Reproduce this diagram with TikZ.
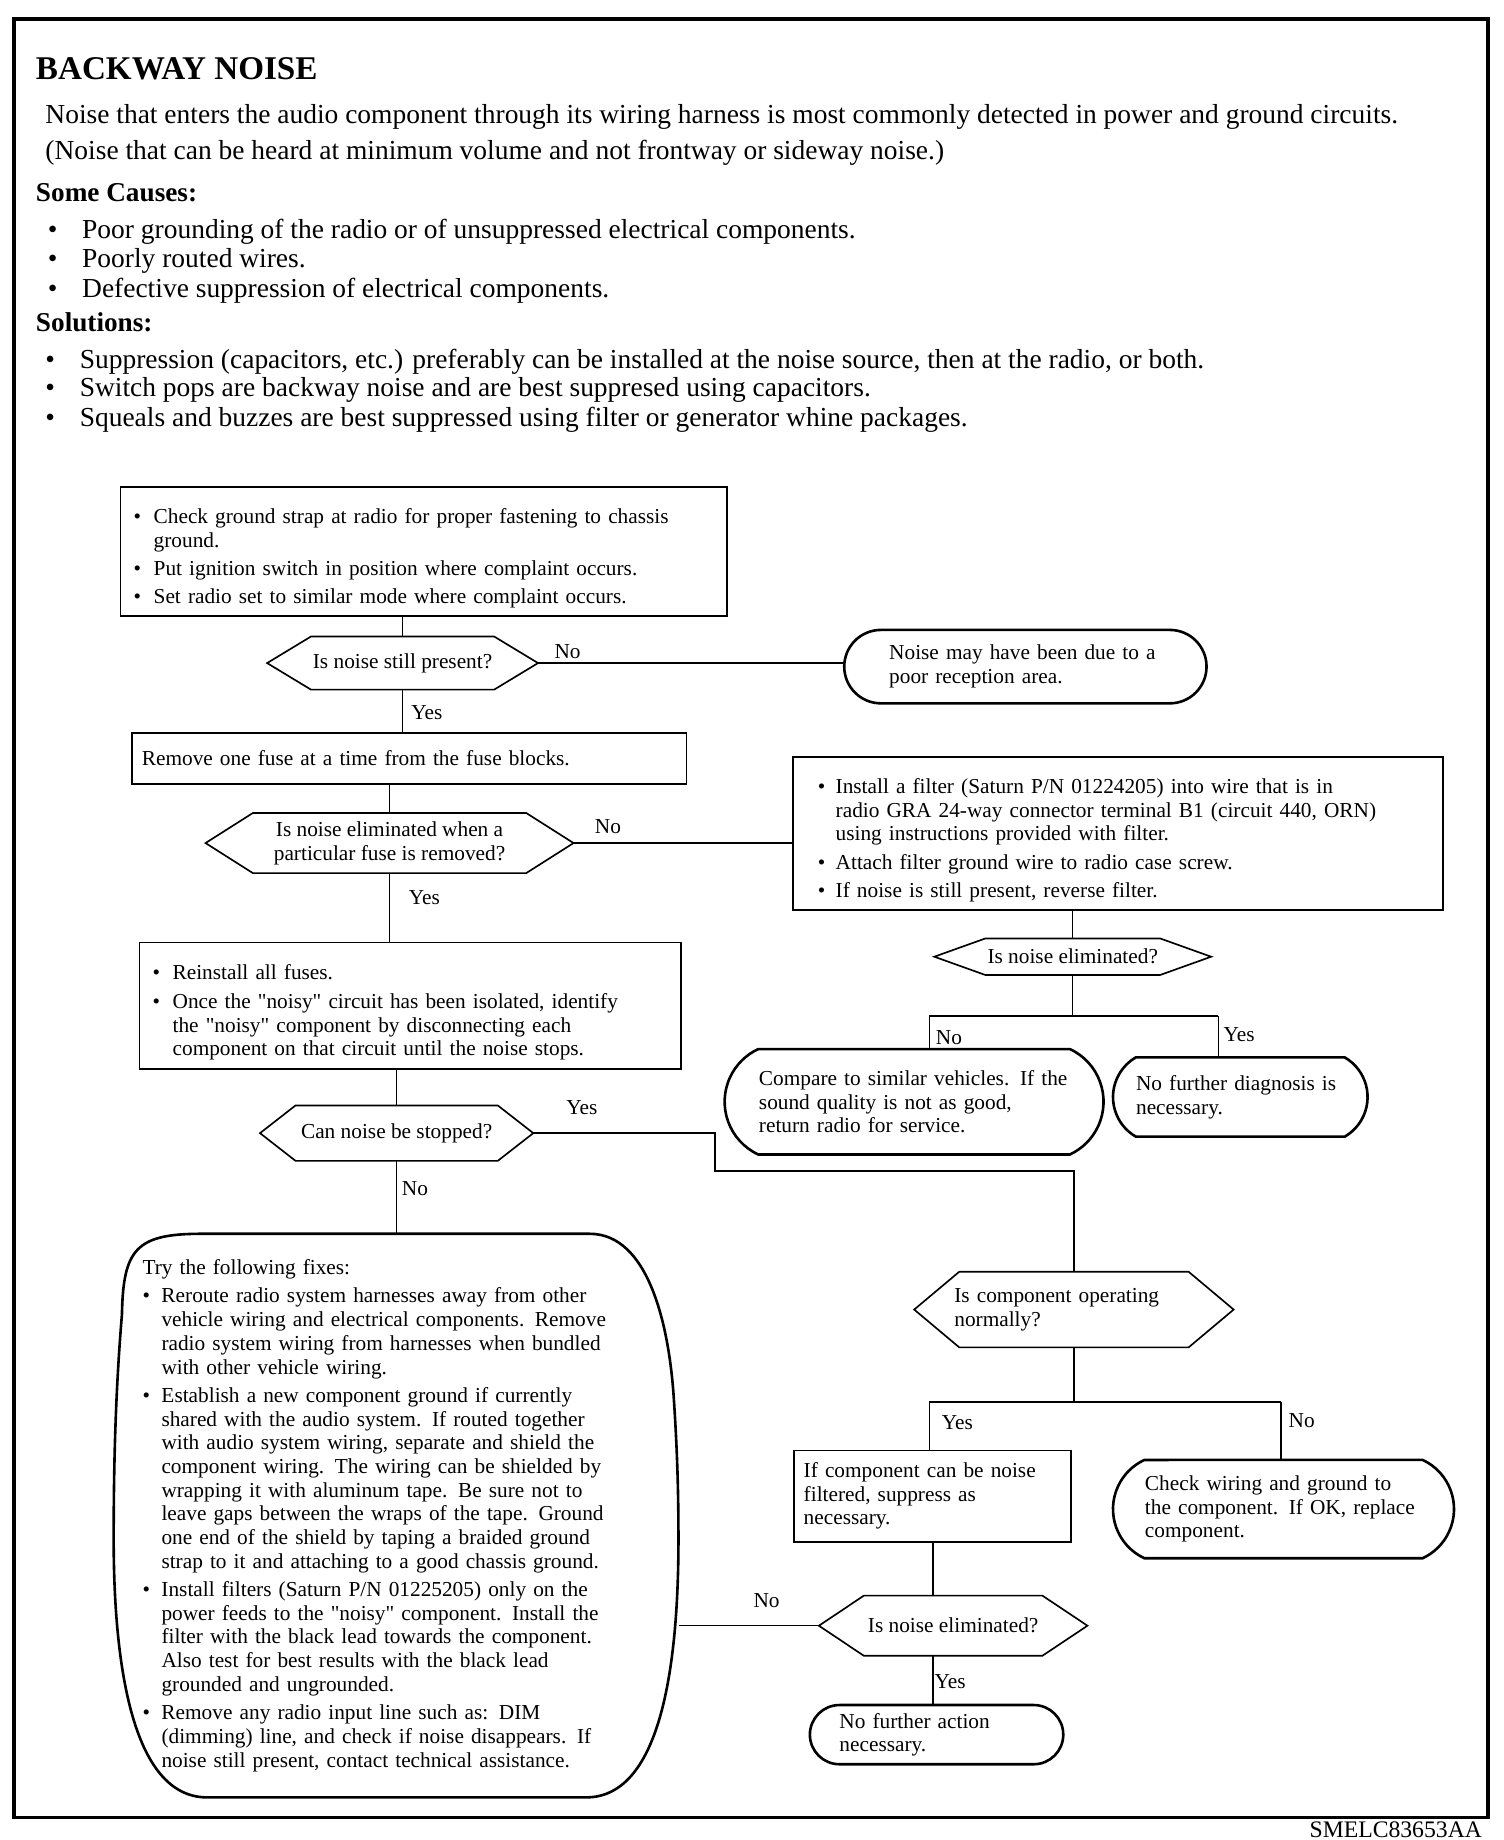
\documentclass[tikz,border=0pt]{standalone}
\usepackage{fontspec}
\setmainfont{Liberation Serif}
\newfontfamily\qfont{Liberation Serif}
\usetikzlibrary{shapes.misc}
\newcommand\dq{{\qfont"}}
\newcommand\fcfont{\fontsize{9}{10}\selectfont\setlength{\parskip}{2pt}}
\newcommand\hdfont{\fontsize{11.6}{13}\selectfont}
\newcommand\nl{\hfil\break}
\newcommand\fitem[2][8.5pt]{\par\noindent\hangindent=#1\hangafter=1\makebox[#1][l]{\textbullet}#2\par}
\newcommand\hexa[2]{\draw[hexline] (#1.west) -- ([xshift=#2]#1.north west) -- ([xshift=-#2]#1.north east) -- (#1.east) -- ([xshift=-#2]#1.south east) -- ([xshift=#2]#1.south west) -- cycle;}
\tikzset{
  bx/.style={draw, line width=0.8pt, rectangle, anchor=west, align=left, font=\fcfont},
  term/.style={draw, line width=1.1pt, rounded rectangle, align=left, font=\fcfont, inner xsep=0pt, inner ysep=2pt},
  hexn/.style={rectangle, inner sep=0pt, font=\fcfont, align=center},
  hexline/.style={line width=0.7pt},
  conn/.style={line width=0.6pt},
  lbl/.style={anchor=base west, inner sep=0pt, font=\fcfont},
  hd/.style={anchor=base west, inner sep=0pt, font=\hdfont},
  hdb/.style={anchor=base west, inner sep=0pt, font=\fontsize{11.5}{13}\selectfont\bfseries},
}
\begin{document}
\begin{tikzpicture}[x=0.5pt,y=-0.5pt]
\useasboundingbox (0,0) rectangle (1270,1554);
\draw[line width=1.6pt] (12,16) rectangle (1257,1535);
\node[anchor=base east, inner sep=0pt, font=\fontsize{10}{12}\selectfont] (code) at (1252,1552) {SMELC83653AA};

% header
\node[anchor=base west, inner sep=0pt, font=\fontsize{14}{16}\selectfont\bfseries] (title) at (30,67) {BACKWAY NOISE};
\node[hd] (intro1) at (38,104) {Noise that enters the audio component through its wiring harness is most commonly detected in power and ground circuits.};
\node[hd] (intro2) at (38,135) {(Noise that can be heard at minimum volume and not frontway or sideway noise.)};
\node[hdb] (causes) at (30,170) {Some Causes:};
\node[hd] (cb1) at (40,201) {\textbullet};
\node[hd] (ct1) at (69,201) {Poor grounding of the radio or of unsuppressed electrical components.};
\node[hd] (cb2) at (40,226) {\textbullet};
\node[hd] (ct2) at (69,226) {Poorly routed wires.};
\node[hd] (cb3) at (40,251) {\textbullet};
\node[hd] (ct3) at (69,251) {Defective suppression of electrical components.};
\node[hdb] (sols) at (30,280) {Solutions:};
\node[hd] (sb1) at (38,311) {\textbullet};
\node[hd] (st1) at (67,311) {Suppression (capacitors, etc.) preferably can be installed at the noise source, then at the radio, or both.};
\node[hd] (sb2) at (38,335) {\textbullet};
\node[hd] (st2) at (67,335) {Switch pops are backway noise and are best suppresed using capacitors.};
\node[hd] (sb3) at (38,360) {\textbullet};
\node[hd] (st3) at (67,360) {Squeals and buzzes are best suppressed using filter or generator whine packages.};

% left column
\node[bx, inner xsep=5.5pt, text width=245pt, minimum height=52pt] (b1) at (101,466)
  {\fitem{Check ground strap at radio for proper fastening to chassis\nl ground.}\fitem{Put ignition switch in position where complaint occurs.}\fitem{Set radio set to similar mode where complaint occurs.}};
\node[hexn, minimum width=114pt, minimum height=22pt] (d1) at (340,560) {Is noise still present?};
\hexa{d1}{18.5pt}
\node[term, text width=115pt, minimum width=153pt, minimum height=31pt] (e1) at (866,563) {Noise may have been due to a\\poor reception area.};
\node[bx, inner xsep=4pt, text width=226pt, minimum height=21.5pt] (b2) at (111,640.5) {Remove one fuse at a time from the fuse blocks.};
\node[hexn, minimum width=155pt, minimum height=25pt] (d2) at (329,712) {Is noise eliminated when a\\particular fuse is removed?};
\hexa{d2}{20pt}
\node[bx, inner xsep=10.5pt, text width=253.5pt, minimum height=63pt] (b3) at (669,704)
  {\fitem[7.5pt]{Install a filter (Saturn P/N 01224205) into wire that is in\nl radio GRA 24-way connector terminal B1 (circuit 440, ORN)\nl using instructions provided with filter.}\fitem[7.5pt]{Attach filter ground wire to radio case screw.}\fitem[7.5pt]{If noise is still present, reverse filter.}};
\node[bx, inner xsep=5.5pt, text width=217.5pt, minimum height=53.5pt] (b4) at (117,849.5)
  {\fitem{Reinstall all fuses.}\fitem{Once the \dq noisy\dq\ circuit has been isolated, identify\nl the \dq noisy\dq\ component by disconnecting each\nl component on that circuit until the noise stops.}};
\node[hexn, minimum width=115pt, minimum height=23pt] (d3) at (335,957) {Can noise be stopped?};
\hexa{d3}{15pt}
\node[rectangle, inner xsep=12pt, inner ysep=0pt, text width=214.5pt, minimum height=238pt, align=left, font=\fcfont, anchor=west] (fixes) at (96,1280)
  {\noindent Try the following fixes:\par
   \fitem[8pt]{Reroute radio system harnesses away from other\nl vehicle wiring and electrical components. Remove\nl radio system wiring from harnesses when bundled\nl with other vehicle wiring.}
   \fitem[8pt]{Establish a new component ground if currently\nl shared with the audio system. If routed together\nl with audio system wiring, separate and shield the\nl component wiring. The wiring can be shielded by\nl wrapping it with aluminum tape. Be sure not to\nl leave gaps between the wraps of the tape. Ground\nl one end of the shield by taping a braided ground\nl strap to it and attaching to a good chassis ground.}
   \fitem[8pt]{Install filters (Saturn P/N 01225205) only on the\nl power feeds to the \dq noisy\dq\ component. Install the\nl filter with the black lead towards the component.\nl Also test for best results with the black lead\nl grounded and ungrounded.}
   \fitem[8pt]{Remove any radio input line such as: DIM\nl (dimming) line, and check if noise disappears. If\nl noise still present, contact technical assistance.}};
\draw[line width=1.1pt] (170,1042) -- (498,1042)
  .. controls (548,1042) and (565,1120) .. (569,1180)
  .. controls (572,1225) and (573,1260) .. (573,1300)
  .. controls (573,1400) and (560,1518) .. (495,1518)
  -- (175,1518)
  .. controls (110,1518) and (96,1400) .. (96,1300)
  .. controls (96,1230) and (98,1170) .. (103,1110)
  .. controls (104,1055) and (115,1042) .. (170,1042) -- cycle;

% right column
\node[hexn, minimum width=116.5pt, minimum height=15pt] (d5) at (906,808) {Is noise eliminated?};
\hexa{d5}{21.5pt}
\node[term, rounded rectangle arc length=130, text width=131pt, minimum width=160pt, minimum height=44.5pt] (e2) at (772,930.5) {Compare to similar vehicles. If the\\sound quality is not as good,\\return radio for service.};
\node[term, rounded rectangle arc length=120, text width=88pt, minimum width=107.5pt, minimum height=33.5pt] (e3) at (1047.5,926.5) {No further diagnosis is\\necessary.};
\node[hexn, align=left, text width=101pt, minimum width=134.5pt, minimum height=31.5pt] (d4) at (907,1106) {Is component operating\\normally?};
\hexa{d4}{19pt}
\node[bx, inner xsep=4pt, text width=109pt, minimum height=38.5pt] (b5) at (670,1263.5) {If component can be noise\nl filtered, suppress as\nl necessary.};
\node[term, rounded rectangle arc length=130, text width=117pt, minimum width=144pt, minimum height=41.5pt] (e4) at (1084,1274.5) {Check wiring and ground to\\the component. If OK, replace\\component.};
\node[hexn, minimum width=113pt, minimum height=25pt] (d6) at (805,1373) {Is noise eliminated?};
\hexa{d6}{19pt}
\node[term, text width=82pt, minimum width=107pt, minimum height=25pt] (e5) at (791,1465) {No further action\\necessary.};

% connectors
\coordinate (s5) at (906,858);
\coordinate (s5l) at (785,858);
\coordinate (s5r) at (1029,858);
\coordinate (y3) at (604,989);
\coordinate (s4l) at (785,1184);
\coordinate (s4r) at (1082,1184);
\draw[conn] (d1.north) -- (d1.north |- b1.south);
\draw[conn] (d1.south) -- (d1.south |- b2.north);
\draw[conn] (d1.east) -- (d1.east -| e1.west);
\draw[conn] (d2.north) -- (d2.north |- b2.south);
\draw[conn] (d2.south) -- (d2.south |- b4.north);
\draw[conn] (d2.east) -- (d2.east -| b3.west);
\draw[conn] (d3.north) -- (d3.north |- b4.south);
\draw[conn] (d3.south) -- (d3.south |- fixes.north);
\draw[conn] (d3.east) -| (y3) -| (d4.north);
\draw[conn] (d5.north) -- (d5.north |- b3.south);
\draw[conn] (d5.south) -- (s5);
\draw[conn] (s5l) -- (s5r);
\draw[conn] (s5l) -- (s5l |- e2.north);
\draw[conn] (s5r) -- (s5r |- e3.north);
\draw[conn] (d4.south) -- (d4.south |- s4l);
\draw[conn] (s4l) -- (s4r);
\draw[conn] (s4l) -- (s4l |- b5.north);
\draw[conn] (s4r) -- (s4r |- e4.north);
\draw[conn] (b5.south) -- (b5.south |- d6.north);
\draw[conn] (d6.west) -- (d6.west -| fixes.east);
\draw[conn] (d6.south -| b5.south) -- (b5.south |- e5.north);

% labels
\node[lbl] (l1) at (468,556) {No};
\node[lbl] (l2) at (347,608) {Yes};
\node[lbl] (l3) at (502,704) {No};
\node[lbl] (l4) at (345,764) {Yes};
\node[lbl] (l5) at (478,941) {Yes};
\node[lbl] (l6) at (339,1010) {No};
\node[lbl] (l7) at (790,882) {No};
\node[lbl] (l8) at (1033,880) {Yes};
\node[lbl] (l9) at (795,1207) {Yes};
\node[lbl] (l10) at (1088,1206) {No};
\node[lbl] (l11) at (636,1358) {No};
\node[lbl] (l12) at (789,1426) {Yes};
\end{tikzpicture}
\end{document}
